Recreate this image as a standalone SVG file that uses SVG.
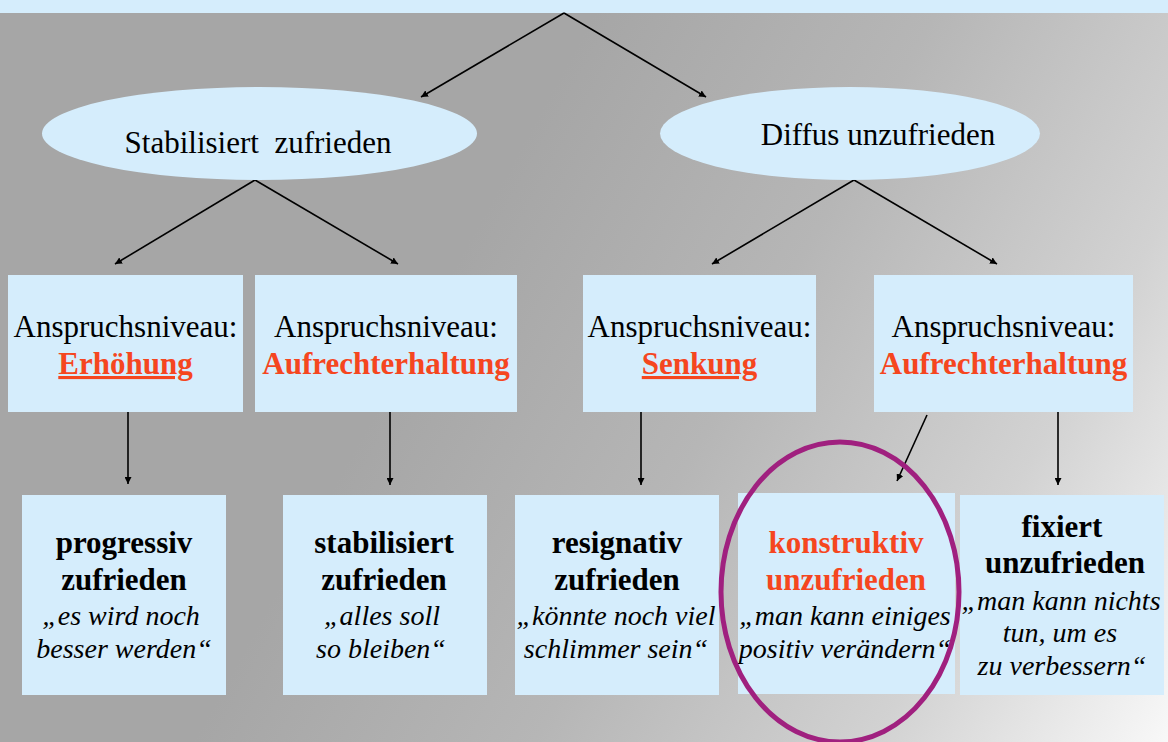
<svg xmlns="http://www.w3.org/2000/svg" width="1168" height="742" viewBox="0 0 1168 742">
<style>
.fill{fill:#d5edfc}
.t{text-anchor:middle;fill:#000}
.r{font-size:31px}
.b{font-size:31px;font-weight:bold}
.i{font-size:28px;font-style:italic}
.red{fill:#f5461f}
.c{stroke:#000;stroke-width:1.6;fill:none;marker-end:url(#ah)}
</style>
<defs>
<linearGradient id="bg" gradientUnits="userSpaceOnUse" x1="420" y1="330" x2="1168" y2="742">
<stop offset="0" stop-color="#a6a6a6"/>
<stop offset="0.35" stop-color="#b6b6b6"/>
<stop offset="0.7" stop-color="#d2d2d2"/>
<stop offset="1" stop-color="#f8f8f8"/>
</linearGradient>
<marker id="ah" viewBox="0 0 10 10" refX="10" refY="5" markerWidth="7" markerHeight="7" orient="auto" markerUnits="userSpaceOnUse">
<path d="M0,0 L10,5 L0,10 z" fill="#000"/>
</marker>
</defs>
<rect x="0" y="0" width="1168" height="742" fill="url(#bg)"/>
<rect x="0" y="0" width="1168" height="13" class="fill"/>

<g id="connectors">
<path class="c" d="M564,13 L421,97"/>
<path class="c" d="M564,13 L706,97"/>
<path class="c" d="M255,180 L115,264"/>
<path class="c" d="M255,180 L398,264"/>
<path class="c" d="M854,180 L712,264"/>
<path class="c" d="M854,180 L997,264"/>
<path class="c" d="M128,412 L128,484"/>
<path class="c" d="M390,412 L390,485"/>
<path class="c" d="M641,412 L641,485"/>
<path class="c" d="M927,415 L897,481"/>
<path class="c" d="M1058,411 L1058,485"/>
</g>

<g font-family="'Liberation Serif', Tinos, 'Times New Roman', 'DejaVu Serif', serif">
<g id="node-stabilisiert">
<ellipse cx="259.5" cy="133.5" rx="217.5" ry="46.5" class="fill"/>
<text class="t r" x="258" y="153" xml:space="preserve">Stabilisiert  zufrieden</text>
</g>
<g id="node-diffus">
<ellipse cx="850" cy="133.5" rx="190" ry="46.5" class="fill"/>
<text class="t r" x="878" y="145">Diffus unzufrieden</text>
</g>

<g id="node-erhoehung">
<rect x="8" y="275" width="235" height="137" class="fill"/>
<text class="t r" x="125.5" y="337">Anspruchsniveau:</text>
<text class="t b red" x="125.5" y="374" text-decoration="underline">Erhöhung</text>
</g>
<g id="node-aufrecht1">
<rect x="255" y="275" width="262" height="137" class="fill"/>
<text class="t r" x="386" y="337">Anspruchsniveau:</text>
<text class="t b red" x="386" y="374">Aufrechterhaltung</text>
</g>
<g id="node-senkung">
<rect x="583" y="275" width="233" height="137" class="fill"/>
<text class="t r" x="699.5" y="337">Anspruchsniveau:</text>
<text class="t b red" x="699.5" y="374" text-decoration="underline">Senkung</text>
</g>
<g id="node-aufrecht2">
<rect x="874" y="275" width="259" height="137" class="fill"/>
<text class="t r" x="1003.5" y="337">Anspruchsniveau:</text>
<text class="t b red" x="1003.5" y="374">Aufrechterhaltung</text>
</g>

<g id="node-progressiv">
<rect x="22" y="495" width="204" height="200" class="fill"/>
<text class="t b" x="124" y="553">progressiv</text>
<text class="t b" x="124" y="590">zufrieden</text>
<text class="t i" x="121" y="625">„es wird noch</text>
<text class="t i" x="124" y="658">besser werden“</text>
</g>
<g id="node-stabil">
<rect x="283" y="495" width="204" height="200" class="fill"/>
<text class="t b" x="384" y="553">stabilisiert</text>
<text class="t b" x="384" y="590">zufrieden</text>
<text class="t i" x="382" y="625">„alles soll</text>
<text class="t i" x="381" y="658">so bleiben“</text>
</g>
<g id="node-resignativ">
<rect x="515" y="495" width="204" height="200" class="fill"/>
<text class="t b" x="617" y="553">resignativ</text>
<text class="t b" x="617" y="590">zufrieden</text>
<text class="t i" x="616" y="625">„könnte noch viel</text>
<text class="t i" x="616" y="658">schlimmer sein“</text>
</g>
<g id="node-konstruktiv">
<rect x="738" y="493" width="217" height="201" class="fill"/>
<text class="t b red" x="846" y="553">konstruktiv</text>
<text class="t b red" x="846" y="590">unzufrieden</text>
<text class="t i" x="845" y="625">„man kann einiges</text>
<text class="t i" x="845" y="658">positiv verändern“</text>
</g>
<g id="node-fixiert">
<rect x="960" y="495" width="204" height="200" class="fill"/>
<text class="t b" x="1062" y="537">fixiert</text>
<text class="t b" x="1065" y="573">unzufrieden</text>
<text class="t i" x="1061" y="610">„man kann nichts</text>
<text class="t i" x="1060" y="642">tun, um es</text>
<text class="t i" x="1062" y="675">zu verbessern“</text>
</g>
</g>

<g id="highlight">
<ellipse cx="840" cy="592" rx="119" ry="150" fill="none" stroke="#a0207f" stroke-width="5"/>
</g>
</svg>
